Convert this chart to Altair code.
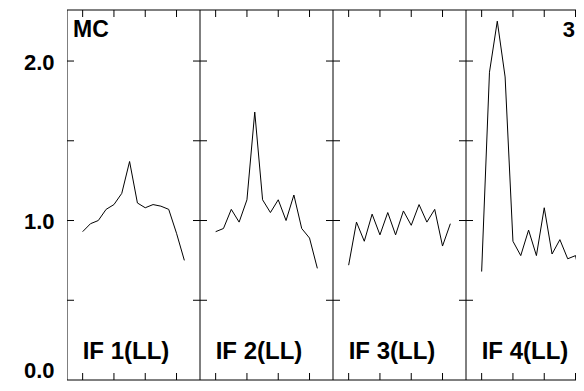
import altair as alt
import pandas as pd

# ---- data ----
panel_labels = ["IF 1(LL)", "IF 2(LL)", "IF 3(LL)", "IF 4(LL)"]
if1 = [0.93, 0.98, 1.00, 1.07, 1.10, 1.17, 1.37, 1.11, 1.08, 1.10, 1.09, 1.07, 0.92, 0.75]
if2 = [0.93, 0.95, 1.07, 0.99, 1.13, 1.68, 1.13, 1.05, 1.13, 1.00, 1.16, 0.95, 0.89, 0.70]
if3 = [0.72, 0.99, 0.87, 1.04, 0.91, 1.05, 0.91, 1.06, 0.97, 1.10, 0.99, 1.07, 0.84, 0.98]
if4 = [0.68, 1.93, 2.25, 1.90, 0.87, 0.78, 0.94, 0.78, 1.08, 0.79, 0.88, 0.76, 0.78, 0.55]
y_label_values = [0.0, 1.0, 2.0]
y_tick_values = [0.5, 1.0, 1.5, 2.0]
corner_left = "MC"
corner_right = "3"

# ---- layout helpers ----
UNITS_PER_PANEL = 17          # sample slots per panel (incl. margins)
FIRST = 2                     # first sample slot inside a panel
TICK_STEP = 4
PANEL_PX = 133
W, H = 509, 370
YMAX = 2.32
FONT = "Liberation Sans"

px_per_unit = PANEL_PX / UNITS_PER_PANEL
xmax = W / px_per_unit

series = [if1, if2, if3, if4]
rows = []
for p, vals in enumerate(series):
    for i, v in enumerate(vals):
        rows.append({"panel": panel_labels[p], "idx": i,
                     "x": p * UNITS_PER_PANEL + FIRST + i, "value": v})
df = pd.DataFrame(rows)

xs = alt.Scale(domain=[0, xmax], nice=False, zero=False)
ys = alt.Scale(domain=[0, YMAX], nice=False, zero=False)
y_axis = alt.Axis(
    values=y_label_values, format=".1f", labelFont=FONT, labelFontSize=22,
    labelFontWeight="bold", labelColor="black", ticks=False, tickSize=0,
    domain=False, grid=False, labelPadding=13, title=None, labelFlush=False,
    labelOverlap=False,
    labelOffset={"condition": {"test": "datum.value == 0", "value": -10}, "value": 1})

line = alt.Chart(df).mark_line(color="black", strokeWidth=1, clip=True).encode(
    x=alt.X("x:Q", scale=xs, axis=None),
    y=alt.Y("value:Q", scale=ys, axis=y_axis),
    detail="panel:N",
    order="idx:Q",
)

borders_df = pd.DataFrame({"b": [p * UNITS_PER_PANEL for p in range(len(panel_labels))]})
vborders = alt.Chart(borders_df).mark_rule(color="black", strokeWidth=1, clip=True).encode(
    x=alt.X("b:Q", scale=xs, axis=None))

hb_df = pd.DataFrame({"h": [0.0, YMAX]})
hborders = alt.Chart(hb_df).mark_rule(color="black", strokeWidth=1).encode(
    y=alt.Y("h:Q", scale=ys, axis=y_axis))

xt_rows = []
for p in range(len(panel_labels)):
    for k in range(4):
        xt_rows.append({"t": p * UNITS_PER_PANEL + FIRST + k * TICK_STEP})
xt_df = pd.DataFrame(xt_rows)
top_ticks = alt.Chart(xt_df).mark_rule(color="black", strokeWidth=1, clip=True).encode(
    x=alt.X("t:Q", scale=xs, axis=None), y=alt.value(0), y2=alt.value(7))
bot_ticks = alt.Chart(xt_df).mark_rule(color="black", strokeWidth=1, clip=True).encode(
    x=alt.X("t:Q", scale=xs, axis=None), y=alt.value(H - 7), y2=alt.value(H))

yt_left = pd.DataFrame([{"bx": 0, "yv": v} for v in y_tick_values])
yt_inner = pd.DataFrame([{"bx": p * UNITS_PER_PANEL, "yv": v}
                         for p in range(1, len(panel_labels)) for v in y_tick_values])
left_ticks = alt.Chart(yt_left).mark_rule(color="black", strokeWidth=1, x2Offset=7).encode(
    x=alt.X("bx:Q", scale=xs, axis=None), x2="bx:Q",
    y=alt.Y("yv:Q", scale=ys, axis=y_axis))
inner_ticks = alt.Chart(yt_inner).mark_rule(color="black", strokeWidth=1,
                                            xOffset=-7, x2Offset=7).encode(
    x=alt.X("bx:Q", scale=xs, axis=None), x2="bx:Q",
    y=alt.Y("yv:Q", scale=ys, axis=y_axis))

lab_df = pd.DataFrame({"lab": panel_labels,
                       "lx": [p * UNITS_PER_PANEL + FIRST for p in range(len(panel_labels))]})
labels = alt.Chart(lab_df).mark_text(
    align="left", baseline="alphabetic", font=FONT, fontSize=24, fontWeight="bold",
    color="black").encode(
    x=alt.X("lx:Q", scale=xs, axis=None), y=alt.value(H - 21), text="lab:N")

mc = alt.Chart(pd.DataFrame({"a": [0]})).mark_text(
    align="left", baseline="alphabetic", font=FONT, fontSize=23, fontWeight="bold",
    color="black").encode(x=alt.value(6), y=alt.value(27), text=alt.datum(corner_left))
rc = alt.Chart(pd.DataFrame({"a": [0]})).mark_text(
    align="right", baseline="alphabetic", font=FONT, fontSize=22, fontWeight="bold",
    color="black").encode(x=alt.value(W - 1), y=alt.value(27), text=alt.datum(corner_right))

chart = alt.layer(
    line, vborders, hborders, top_ticks, bot_ticks, left_ticks, inner_ticks,
    labels, mc, rc
).properties(
    width=W, height=H,
    autosize=alt.AutoSizeParams(type="none"),
    padding={"left": 59, "top": 2, "right": 0, "bottom": 3},
    background="white",
).configure_view(stroke=None)

chart.save("out.html", embed_options={"renderer": "svg", "actions": False})
